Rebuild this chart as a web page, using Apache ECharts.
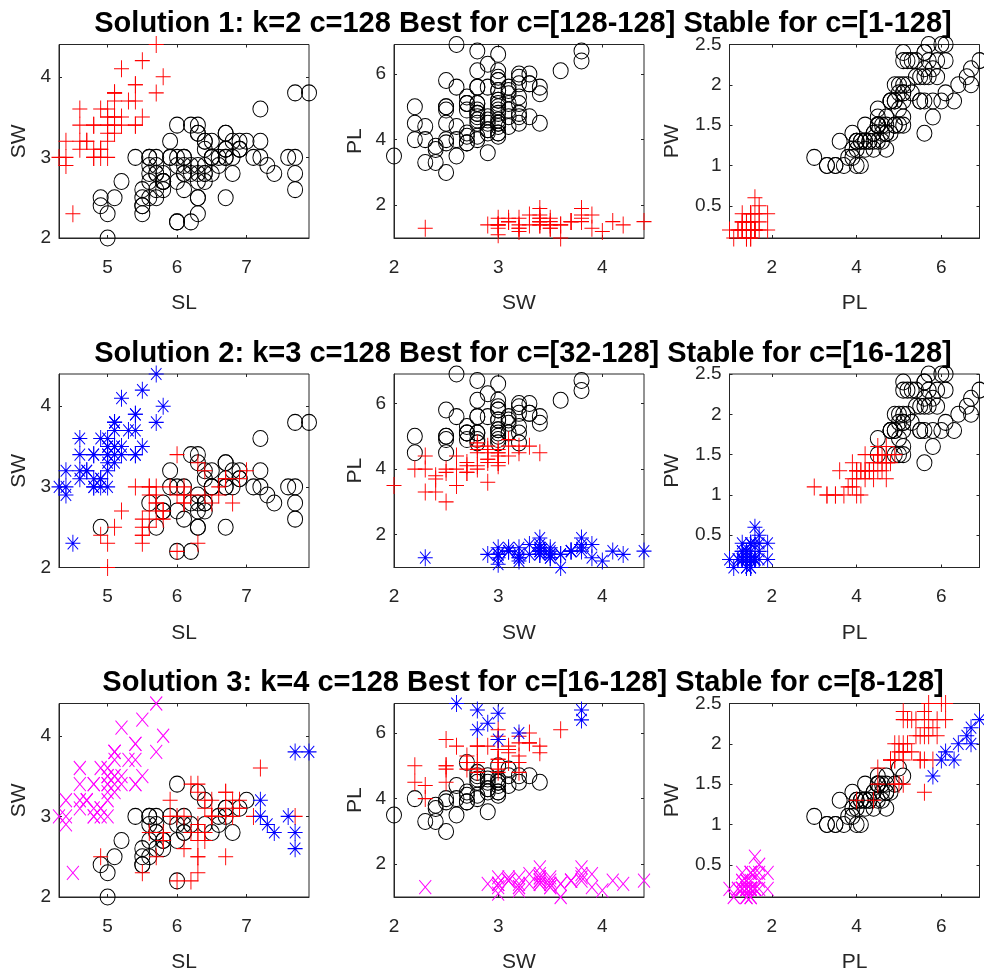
<!DOCTYPE html>
<html>
<head>
<meta charset="utf-8">
<script src="https://cdn.jsdelivr.net/npm/echarts@6/dist/echarts.min.js"></script>
<style>
  html, body { margin: 0; padding: 0; background: #fff; }
  #main { width: 984px; height: 976px; }
</style>
</head>
<body>
<div id="main"></div>
<script>
// iris measurements: rows 1-50 setosa, 51-100 versicolor, 101-150 virginica
const SL = [
  5.1,4.9,4.7,4.6,5.0,5.4,4.6,5.0,4.4,4.9, 5.4,4.8,4.8,4.3,5.8,5.7,5.4,5.1,5.7,5.1,
  5.4,5.1,4.6,5.1,4.8,5.0,5.0,5.2,5.2,4.7, 4.8,5.4,5.2,5.5,4.9,5.0,5.5,4.9,4.4,5.1,
  5.0,4.5,4.4,5.0,5.1,4.8,5.1,4.6,5.3,5.0,
  7.0,6.4,6.9,5.5,6.5,5.7,6.3,4.9,6.6,5.2, 5.0,5.9,6.0,6.1,5.6,6.7,5.6,5.8,6.2,5.6,
  5.9,6.1,6.3,6.1,6.4,6.6,6.8,6.7,6.0,5.7, 5.5,5.5,5.8,6.0,5.4,6.0,6.7,6.3,5.6,5.5,
  5.5,6.1,5.8,5.0,5.6,5.7,5.7,6.2,5.1,5.7,
  6.3,5.8,7.1,6.3,6.5,7.6,4.9,7.3,6.7,7.2, 6.5,6.4,6.8,5.7,5.8,6.4,6.5,7.7,7.7,6.0,
  6.9,5.6,7.7,6.3,6.7,7.2,6.2,6.1,6.4,7.2, 7.4,7.9,6.4,6.3,6.1,7.7,6.3,6.4,6.0,6.9,
  6.7,6.9,5.8,6.8,6.7,6.7,6.3,6.5,6.2,5.9
];
const SW = [
  3.5,3.0,3.2,3.1,3.6,3.9,3.4,3.4,2.9,3.1, 3.7,3.4,3.0,3.0,4.0,4.4,3.9,3.5,3.8,3.8,
  3.4,3.7,3.6,3.3,3.4,3.0,3.4,3.5,3.4,3.2, 3.1,3.4,4.1,4.2,3.1,3.2,3.5,3.6,3.0,3.4,
  3.5,2.3,3.2,3.5,3.8,3.0,3.8,3.2,3.7,3.3,
  3.2,3.2,3.1,2.3,2.8,2.8,3.3,2.4,2.9,2.7, 2.0,3.0,2.2,2.9,2.9,3.1,3.0,2.7,2.2,2.5,
  3.2,2.8,2.5,2.8,2.9,3.0,2.8,3.0,2.9,2.6, 2.4,2.4,2.7,2.7,3.0,3.4,3.1,2.3,3.0,2.5,
  2.6,3.0,2.6,2.3,2.7,3.0,2.9,2.9,2.5,2.8,
  3.3,2.7,3.0,2.9,3.0,3.0,2.5,2.9,2.5,3.6, 3.2,2.7,3.0,2.5,2.8,3.2,3.0,3.8,2.6,2.2,
  3.2,2.8,2.8,2.7,3.3,3.2,2.8,3.0,2.8,3.0, 2.8,3.8,2.8,2.8,2.6,3.0,3.4,3.1,3.0,3.1,
  3.1,3.1,2.7,3.2,3.3,3.0,2.5,3.0,3.4,3.0
];
const PL = [
  1.4,1.4,1.3,1.5,1.4,1.7,1.4,1.5,1.4,1.5, 1.5,1.6,1.4,1.1,1.2,1.5,1.3,1.4,1.7,1.5,
  1.7,1.5,1.0,1.7,1.9,1.6,1.6,1.5,1.4,1.6, 1.6,1.5,1.5,1.4,1.5,1.2,1.3,1.4,1.3,1.5,
  1.3,1.3,1.3,1.6,1.9,1.4,1.6,1.4,1.5,1.4,
  4.7,4.5,4.9,4.0,4.6,4.5,4.7,3.3,4.6,3.9, 3.5,4.2,4.0,4.7,3.6,4.4,4.5,4.1,4.5,3.9,
  4.8,4.0,4.9,4.7,4.3,4.4,4.8,5.0,4.5,3.5, 3.8,3.7,3.9,5.1,4.5,4.5,4.7,4.4,4.1,4.0,
  4.4,4.6,4.0,3.3,4.2,4.2,4.2,4.3,3.0,4.1,
  6.0,5.1,5.9,5.6,5.8,6.6,4.5,6.3,5.8,6.1, 5.1,5.3,5.5,5.0,5.1,5.3,5.5,6.7,6.9,5.0,
  5.7,4.9,6.7,4.9,5.7,6.0,4.8,4.9,5.6,5.8, 6.1,6.4,5.6,5.1,5.6,6.1,5.6,5.5,4.8,5.4,
  5.6,5.1,5.1,5.9,5.7,5.2,5.0,5.2,5.4,5.1
];
const PW = [
  0.2,0.2,0.2,0.2,0.2,0.4,0.3,0.2,0.2,0.1, 0.2,0.2,0.1,0.1,0.2,0.4,0.4,0.3,0.3,0.3,
  0.2,0.4,0.2,0.5,0.2,0.2,0.4,0.2,0.2,0.2, 0.2,0.4,0.1,0.2,0.2,0.2,0.2,0.1,0.2,0.2,
  0.3,0.3,0.2,0.6,0.4,0.3,0.2,0.2,0.2,0.2,
  1.4,1.5,1.5,1.3,1.5,1.3,1.6,1.0,1.3,1.4, 1.0,1.5,1.0,1.4,1.3,1.4,1.5,1.0,1.5,1.1,
  1.8,1.3,1.5,1.2,1.3,1.4,1.4,1.7,1.5,1.0, 1.1,1.0,1.2,1.6,1.5,1.6,1.5,1.3,1.3,1.3,
  1.2,1.4,1.2,1.0,1.3,1.2,1.3,1.3,1.1,1.3,
  2.5,1.9,2.1,1.8,2.2,2.1,1.7,1.8,1.8,2.5, 2.0,1.9,2.1,2.0,2.4,2.3,1.8,2.2,2.3,1.5,
  2.3,2.0,2.0,1.8,2.1,1.8,1.8,1.8,2.1,1.6, 1.9,2.0,2.2,1.5,1.4,2.3,2.4,1.8,1.8,2.1,
  2.4,2.3,1.9,2.3,2.5,2.3,1.9,2.0,2.3,1.8
];

// cluster of each row, per solution (r = red +, k = black o, b = blue *, m = magenta x)
const sol1 = [
  'rrrrrrrrrr','rrrrrrrrrr','rrrrrrrrrr','rrrrrrrrrr','rrrrrrrrrr',
  'kkkkkkkkkk','kkkkkkkkkk','kkkkkkkkkk','kkkkkkkkkk','kkkkkkkkkk',
  'kkkkkkkkkk','kkkkkkkkkk','kkkkkkkkkk','kkkkkkkkkk','kkkkkkkkkk'
].join('');
const sol2 = [
  'bbbbbbbbbb','bbbbbbbbbb','bbbbbbbbbb','bbbbbbbbbb','bbbbbbbbbb',
  'rrrrrrrrrr','rrrrrrrrkr','krkrrrrkrr','rrrkrrrrrr','rrrrrrrrrr',
  'kkkkkkkkkk','kkkkkkkkkk','kkkkkkkkkk','kkkkkkkkkk','kkkkkkkkkk'
].join('');
const sol3 = [
  'mmmmmmmmmm','mmmmmmmmmm','mmmmmmmmmm','mmmmmmmmmm','mmmmmmmmmm',
  'kkkrkkkkkk','kkkkkkkkrk','rkrkkkkkkk','kkkkkkkrkk','kkkkkkkkkk',
  'rrrrrbrbrr','rrrrrrrbbr','rrbrrbrrrb','bbrrrrrrrr','rrrrrrrrrr'
].join('');

const titles = [
  'Solution 1: k=2 c=128 Best for c=[128-128] Stable for c=[1-128]',
  'Solution 2: k=3 c=128 Best for c=[32-128] Stable for c=[16-128]',
  'Solution 3: k=4 c=128 Best for c=[16-128] Stable for c=[8-128]'
];

const vars = { SL: SL, SW: SW, PL: PL, PW: PW };
const ranges = {
  SL: { min: 4.3, max: 7.9, ticks: [5, 6, 7] },
  SW: { min: 2, max: 4.4, ticks: [2, 3, 4] },
  PL: { min: 1, max: 6.9, ticks: [2, 4, 6] },
  PW: { min: 0.1, max: 2.5, ticks: [0.5, 1, 1.5, 2, 2.5] }
};
const pairs = [['SL', 'SW'], ['SW', 'PL'], ['PL', 'PW']];

const markers = {
  k: { symbol: 'circle', size: [15, 16], color: '#000000' },
  r: { symbol: 'path://M0,-10L0,10M-10,0L10,0', size: [15, 17], color: '#ff0000' },
  b: { symbol: 'path://M0,-10L0,10M-10,0L10,0M-7,-7L7,7M-7,7L7,-7', size: [15, 17], color: '#0000ff' },
  m: { symbol: 'path://M-10,-10L10,10M-10,10L10,-10', size: [12, 14], color: '#ff00ff' }
};

const colLeft = [59, 394, 729.5];
const rowTop = [44.5, 374, 703.5];
const W = 250, H = 193.5;
const yNameGap = [29, 28, 47];
const font = 'Liberation Sans, Arial, Helvetica, sans-serif';
const ink = '#262626';

const grid = [], xAxis = [], yAxis = [], series = [], title = [];
const sols = [sol1, sol2, sol3];

for (let r = 0; r < 3; r++) {
  title.push({
    text: titles[r], left: 518, top: rowTop[r] - 40, textAlign: 'center',
    textStyle: { fontFamily: font, fontSize: 29, fontWeight: 'bold', color: '#000' }
  });
  for (let c = 0; c < 3; c++) {
    const g = r * 3 + c;
    const xv = pairs[c][0], yv = pairs[c][1];
    grid.push({ left: colLeft[c], top: rowTop[r], width: W, height: H,
      show: true, borderColor: ink, borderWidth: 1, backgroundColor: '#fff' });
    const tick = (vals) => ({ show: true, inside: true, length: 3, customValues: vals,
      lineStyle: { color: ink, width: 1 } });
    // main axes
    xAxis.push({ gridIndex: g, type: 'value', min: ranges[xv].min, max: ranges[xv].max,
      name: xv, nameLocation: 'middle', nameGap: 55,
      nameTextStyle: { fontFamily: font, fontSize: 21, color: ink },
      axisLine: { show: true, onZero: false, lineStyle: { color: ink, width: 1 } },
      axisTick: tick(ranges[xv].ticks),
      axisLabel: { customValues: ranges[xv].ticks, margin: 20, fontFamily: font, fontSize: 19, color: ink },
      splitLine: { show: false } });
    yAxis.push({ gridIndex: g, type: 'value', min: ranges[yv].min, max: ranges[yv].max,
      name: yv, nameLocation: 'middle', nameGap: yNameGap[c], nameRotate: 90,
      nameTextStyle: { fontFamily: font, fontSize: 21, color: ink },
      axisLine: { show: true, onZero: false, lineStyle: { color: ink, width: 1 } },
      axisTick: tick(ranges[yv].ticks),
      axisLabel: { customValues: ranges[yv].ticks, margin: 8, fontFamily: font, fontSize: 19, color: ink },
      splitLine: { show: false } });
    // mirrored box ticks
    xAxis.push({ gridIndex: g, type: 'value', position: 'top', min: ranges[xv].min, max: ranges[xv].max,
      axisLine: { show: false }, axisTick: tick(ranges[xv].ticks),
      axisLabel: { show: false }, splitLine: { show: false } });
    yAxis.push({ gridIndex: g, type: 'value', position: 'right', min: ranges[yv].min, max: ranges[yv].max,
      axisLine: { show: false }, axisTick: tick(ranges[yv].ticks),
      axisLabel: { show: false }, splitLine: { show: false } });

    const labels = sols[r];
    ['k', 'r', 'b', 'm'].forEach(key => {
      const pts = [];
      for (let i = 0; i < labels.length; i++) {
        if (labels[i] === key) pts.push([vars[xv][i], vars[yv][i]]);
      }
      if (!pts.length) return;
      const mk = markers[key];
      series.push({
        type: 'scatter', xAxisIndex: g * 2, yAxisIndex: g * 2, data: pts,
        symbol: mk.symbol, symbolSize: mk.size, clip: false, silent: true,
        itemStyle: { color: 'rgba(0,0,0,0)', borderColor: mk.color, borderWidth: 1, opacity: 1 }
      });
    });
  }
}

const chart = echarts.init(document.getElementById('main'), null, { renderer: 'canvas' });
chart.setOption({
  animation: false,
  backgroundColor: '#fff',
  title: title,
  grid: grid,
  xAxis: xAxis,
  yAxis: yAxis,
  series: series
});
</script>
</body>
</html>
